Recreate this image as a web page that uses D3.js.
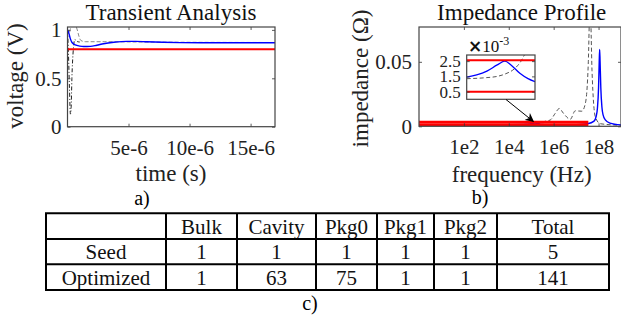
<!DOCTYPE html>
<html>
<head>
<meta charset="utf-8">
<script src="https://cdn.jsdelivr.net/npm/d3@7"></script>
<style>
  html, body { margin: 0; padding: 0; background: #fff; }
  svg { display: block; }
</style>
</head>
<body>
<svg id="fig" width="621" height="324"></svg>
<script>
// ---- Transient analysis data (time in s, voltage in V) ----
const timeOptimized = [0, 0.1e-6, 0.23e-6, 0.37e-6, 0.64e-6, 1.0e-6, 1.32e-6, 1.87e-6, 2.4e-6, 2.95e-6, 3.8e-6, 4.87e-6, 5.6e-6, 6.5e-6, 7.8e-6, 9.24e-6, 11e-6, 13e-6, 15e-6, 17e-6];
const voltOptimized = [1.0, 0.97, 0.91, 0.87, 0.845, 0.833, 0.828, 0.83, 0.842, 0.857, 0.872, 0.882, 0.882, 0.877, 0.872, 0.869, 0.868, 0.868, 0.868, 0.868];

const timeSeedA = [0, 0.1e-6, 0.2e-6, 0.28e-6, 0.36e-6, 0.45e-6, 0.55e-6, 0.65e-6, 0.8e-6, 0.95e-6, 1.1e-6, 1.5e-6, 3e-6, 6e-6, 10e-6, 17e-6];
const voltSeedA = [1.0, 0.96, 0.99, 1.04, 1.1, 1.12, 1.1, 1.06, 1.0, 0.93, 0.89, 0.878, 0.878, 0.875, 0.872, 0.87];

const timeSeedB = [0, 0.08e-6, 0.16e-6, 0.24e-6, 0.3e-6, 0.36e-6, 0.45e-6, 0.6e-6, 0.8e-6, 1.0e-6];
const voltSeedB = [1.0, 0.75, 0.4, 0.13, 0.2, 0.5, 0.75, 0.9, 0.88, 0.875];

const voltLimit = 0.8;

const timeTicks = [5e-6, 10e-6, 15e-6];
const timeTickLabels = ["5e-6", "10e-6", "15e-6"];
const voltTicks = [0, 0.5, 1];
const voltTickLabels = ["0", "0.5", "1"];

// ---- Impedance profile data (frequency in Hz, impedance in Ohm) ----
const freqOptimized = [1e0, 1e2, 1e3, 1e4, 4.0e4, 5.6e4, 7.9e4, 1.12e5, 1.45e5, 1.78e5, 2.4e5, 3.16e5, 4.0e5, 1e6, 1e7, 3.2e7, 6.3e7, 7.9e7, 8.9e7, 1.0e8, 1.07e8, 1.12e8, 1.17e8, 1.26e8, 1.41e8, 1.58e8, 2.0e8, 3.2e8, 1e9];
const zOptimized = [1.0e-3, 1.1e-3, 1.2e-3, 1.3e-3, 1.45e-3, 1.6e-3, 1.85e-3, 2.25e-3, 2.5e-3, 2.25e-3, 1.7e-3, 1.35e-3, 1.15e-3, 0.8e-3, 1.2e-3, 2e-3, 4e-3, 8e-3, 0.014, 0.03, 0.05, 0.0596, 0.05, 0.03, 0.015, 0.009, 0.005, 0.0025, 0.001];

const freqSeed = [1e0, 1e2, 1e4, 4.0e4, 7.9e4, 1.12e5, 1.45e5, 2.0e5, 2.5e5, 2.8e5, 4.0e5, 7.1e5, 1.17e6, 1.78e6, 2.75e6, 5.5e6, 9.1e6, 1.8e7, 2.6e7, 3.5e7, 4.0e7, 4.3e7, 4.7e7, 5.1e7, 7.2e7, 1.2e8, 1e9];
const zSeed = [1.2e-3, 1.25e-3, 1.3e-3, 1.35e-3, 1.42e-3, 1.5e-3, 1.65e-3, 2.0e-3, 2.5e-3, 2.9e-3, 3.8e-3, 0.0049, 0.010, 0.0138, 0.010, 0.0054, 0.012, 0.0117, 0.018, 0.05, 0.09, 0.1, 0.07, 0.0435, 0.0072, 0.002, 0.0008];

const zLimits = [2.55e-3, 0.5e-3];
const zLimitFreq = [1e0, 3.5e7];

const freqTicks = [1e2, 1e4, 1e6, 1e8];
const freqTickLabels = ["1e2", "1e4", "1e6", "1e8"];
const zTicks = [0, 0.05];
const zTickLabels = ["0", "0.05"];
const insetTicks = [0.5e-3, 1.5e-3, 2.5e-3];
const insetTickLabels = ["0.5", "1.5", "2.5"];
const insetFreqRange = [4e4, 4e5];

// ---- Table data ----
const tableHeader = ["", "Bulk", "Cavity", "Pkg0", "Pkg1", "Pkg2", "Total"];
const rowLabels = ["Seed", "Optimized"];
const seedCounts = [1, 1, 1, 1, 1, 5];
const optimizedCounts = [1, 63, 75, 1, 1, 141];

const serif = "Liberation Serif, Times New Roman, serif";
const svg = d3.select("#fig").attr("font-family", serif);
const BLUE = "#0000ff", RED = "#ff0000", GRAY = "#555";

// Inward ticks on all four sides, labels on bottom/left
function drawFrame(g, x, y, xt, xl, yt, yl, opt) {
  const [x0, x1] = x.range();
  const [y0, y1] = y.range();
  const tl = opt.tick || 3;
  const style = sel => {
    sel.select(".domain").remove();
    sel.selectAll("line").attr("stroke", "#333").attr("stroke-width", 0.8);
    sel.selectAll("text").attr("fill", "#222").attr("font-family", serif).attr("font-size", opt.fs);
  };
  if (xt) {
    g.append("g").attr("transform", `translate(0,${y0})`)
      .call(d3.axisBottom(x).tickValues(xt).tickFormat((d, i) => xl ? xl[i] : "").tickSize(-tl).tickPadding(opt.xpad || 13))
      .call(style);
    g.append("g").attr("transform", `translate(0,${y1})`)
      .call(d3.axisTop(x).tickValues(xt).tickFormat("").tickSize(-tl))
      .call(style);
  }
  g.append("g").attr("transform", `translate(${x0},0)`)
    .call(d3.axisLeft(y).tickValues(yt).tickFormat((d, i) => yl[i]).tickSize(-tl).tickPadding(opt.ypad || 7))
    .call(style);
  g.append("g").attr("transform", `translate(${x1},0)`)
    .call(d3.axisRight(y).tickValues(yt).tickFormat("").tickSize(-tl))
    .call(style);
  g.append("rect")
    .attr("x", x0).attr("y", y1).attr("width", x1 - x0).attr("height", y0 - y1)
    .attr("fill", "none").attr("stroke", "#444").attr("stroke-width", 1.2);
}

function clip(id, x, y) {
  const [x0, x1] = x.range();
  const [y0, y1] = y.range();
  svg.append("clipPath").attr("id", id).append("rect")
    .attr("x", x0).attr("y", y1).attr("width", x1 - x0).attr("height", y0 - y1);
}

// ================= a) Transient Analysis =================
const xT = d3.scaleLinear([0, 1.7e-5], [67.5, 275]);
const yT = d3.scaleLinear([0, 1.03], [126.7, 27]);
clip("clipT", xT, yT);
const gT = svg.append("g");
const plotT = gT.append("g").attr("clip-path", "url(#clipT)");

const lineT = d3.line().x(d => xT(d[0])).y(d => yT(d[1])).curve(d3.curveMonotoneX);

plotT.append("path").datum(d3.zip(timeSeedA, voltSeedA)).attr("d", lineT)
  .attr("fill", "none").attr("stroke", "#888").attr("stroke-width", 1).attr("stroke-dasharray", "4,2");
plotT.append("path").datum(d3.zip(timeSeedB, voltSeedB)).attr("d", lineT)
  .attr("fill", "none").attr("stroke", "#222").attr("stroke-width", 1).attr("stroke-dasharray", "4,2,1,2");
plotT.append("path").datum(d3.zip(timeOptimized, voltOptimized)).attr("d", lineT)
  .attr("fill", "none").attr("stroke", BLUE).attr("stroke-width", 1.4);
plotT.append("line")
  .attr("x1", xT(0)).attr("x2", xT(1.7e-5)).attr("y1", yT(voltLimit)).attr("y2", yT(voltLimit))
  .attr("stroke", RED).attr("stroke-width", 2);

drawFrame(gT, xT, yT, timeTicks, timeTickLabels, voltTicks, voltTickLabels, { fs: 21, xpad: 13, ypad: 6 });

gT.append("text").attr("x", 171).attr("y", 20).attr("text-anchor", "middle")
  .attr("font-size", 23).attr("fill", "#111").text("Transient Analysis");
gT.append("text").attr("x", 171).attr("y", 181).attr("text-anchor", "middle")
  .attr("font-size", 23).attr("fill", "#222").text("time (s)");
gT.append("text").attr("transform", "translate(23,76) rotate(-90)").attr("text-anchor", "middle")
  .attr("font-size", 23).attr("fill", "#222").text("voltage (V)");

// ================= b) Impedance Profile =================
const xZ = d3.scaleLog([1, 1e9], [419, 621]);
const yZ = d3.scaleLinear([0, 0.077], [126.3, 27]);
clip("clipZ", xZ, yZ);
const gZ = svg.append("g");
const plotZ = gZ.append("g").attr("clip-path", "url(#clipZ)");

const lineZ = d3.line().x(d => xZ(d[0])).y(d => yZ(d[1])).curve(d3.curveMonotoneX);

plotZ.append("path").datum(d3.zip(freqSeed, zSeed)).attr("d", lineZ)
  .attr("fill", "none").attr("stroke", GRAY).attr("stroke-width", 1).attr("stroke-dasharray", "4,2.5");
plotZ.append("path").datum(d3.zip(freqOptimized, zOptimized)).attr("d", lineZ)
  .attr("fill", "none").attr("stroke", BLUE).attr("stroke-width", 1.4);
zLimits.forEach(v => {
  plotZ.append("line")
    .attr("x1", xZ(zLimitFreq[0])).attr("x2", xZ(zLimitFreq[1]))
    .attr("y1", yZ(v) - 1).attr("y2", yZ(v) - 1)
    .attr("stroke", RED).attr("stroke-width", 2.6);
});

drawFrame(gZ, xZ, yZ, freqTicks, freqTickLabels, zTicks, zTickLabels, { fs: 21, xpad: 13, ypad: 7 });

gZ.append("text").attr("x", 521.7).attr("y", 20).attr("text-anchor", "middle")
  .attr("font-size", 23).attr("fill", "#111").text("Impedance Profile");
gZ.append("text").attr("x", 521.7).attr("y", 182).attr("text-anchor", "middle")
  .attr("font-size", 23).attr("fill", "#222").text("frequency (Hz)");
gZ.append("text").attr("transform", "translate(368,78.5) rotate(-90)").attr("text-anchor", "middle")
  .attr("font-size", 23).attr("fill", "#222").text("impedance (Ω)");

// ---- zoomed inset of the low-impedance band ----
const xI = d3.scaleLog(insetFreqRange, [466.7, 535]);
const yI = d3.scaleLinear([0, 2.9e-3], [99.3, 55]);
clip("clipI", xI, yI);
const gI = svg.append("g");
gI.append("rect").attr("x", 466.7).attr("y", 55).attr("width", 535 - 466.7).attr("height", 99.3 - 55)
  .attr("fill", "#fff");
const plotI = gI.append("g").attr("clip-path", "url(#clipI)");
const lineI = d3.line().x(d => xI(d[0])).y(d => yI(d[1])).curve(d3.curveMonotoneX);
const inRange = (f) => f >= insetFreqRange[0] * 0.5 && f <= insetFreqRange[1] * 2;

plotI.append("path").datum(d3.zip(freqSeed, zSeed).filter(d => inRange(d[0]))).attr("d", lineI)
  .attr("fill", "none").attr("stroke", GRAY).attr("stroke-width", 1).attr("stroke-dasharray", "4,2.5");
plotI.append("path").datum(d3.zip(freqOptimized, zOptimized).filter(d => inRange(d[0]))).attr("d", lineI)
  .attr("fill", "none").attr("stroke", BLUE).attr("stroke-width", 1.3);
zLimits.forEach(v => {
  plotI.append("line")
    .attr("x1", xI(insetFreqRange[0])).attr("x2", xI(insetFreqRange[1]))
    .attr("y1", yI(v)).attr("y2", yI(v))
    .attr("stroke", RED).attr("stroke-width", 2);
});
drawFrame(gI, xI, yI, null, null, insetTicks, insetTickLabels, { fs: 17, ypad: 6, tick: 3 });

const expo = gI.append("text").attr("x", 468).attr("y", 52).attr("font-size", 17).attr("fill", "#111");
expo.append("tspan").attr("font-family", "DejaVu Sans, sans-serif").attr("font-weight", "bold").text("×");
expo.append("tspan").text("10");
expo.append("tspan").attr("dy", -7).attr("font-size", 12).text("-3");

// arrow from inset to the band it magnifies
const defs = svg.append("defs");
defs.append("marker").attr("id", "arrowHead").attr("viewBox", "0 0 10 10")
  .attr("refX", 9).attr("refY", 5).attr("markerWidth", 9).attr("markerHeight", 9)
  .attr("markerUnits", "userSpaceOnUse").attr("orient", "auto")
  .append("path").attr("d", "M0,0 L10,5 L0,10 L3,5 Z").attr("fill", "#000");
svg.append("line").attr("x1", 506).attr("y1", 99.5).attr("x2", xZ(1.25e5)).attr("y2", 121.5)
  .attr("stroke", "#000").attr("stroke-width", 1).attr("marker-end", "url(#arrowHead)");

// ================= panel letters =================
svg.append("text").attr("x", 142).attr("y", 205).attr("text-anchor", "middle").attr("font-size", 20).text("a)");
svg.append("text").attr("x", 480).attr("y", 204).attr("text-anchor", "middle").attr("font-size", 20).text("b)");
svg.append("text").attr("x", 310).attr("y", 310).attr("text-anchor", "middle").attr("font-size", 20).text("c)");

// ================= c) table =================
const colX = [46, 166, 237, 316, 377, 434, 497, 609];
const rowY = [213.3, 239, 264.3, 290];
const gTab = svg.append("g");
const rows = [tableHeader, [rowLabels[0], ...seedCounts], [rowLabels[1], ...optimizedCounts]];
rows.forEach((cells, r) => {
  cells.forEach((c, i) => {
    gTab.append("text")
      .attr("x", (colX[i] + colX[i + 1]) / 2)
      .attr("y", (rowY[r] + rowY[r + 1]) / 2)
      .attr("dy", "0.36em").attr("text-anchor", "middle")
      .attr("font-size", 21).attr("fill", "#111").text(c);
  });
});
rowY.forEach(y => gTab.append("line").attr("x1", colX[0] - 1).attr("x2", colX[colX.length - 1] + 1)
  .attr("y1", y).attr("y2", y).attr("stroke", "#000").attr("stroke-width", 2));
colX.forEach(x => gTab.append("line").attr("x1", x).attr("x2", x)
  .attr("y1", rowY[0]).attr("y2", rowY[rowY.length - 1]).attr("stroke", "#000").attr("stroke-width", 2));
</script>
</body>
</html>
